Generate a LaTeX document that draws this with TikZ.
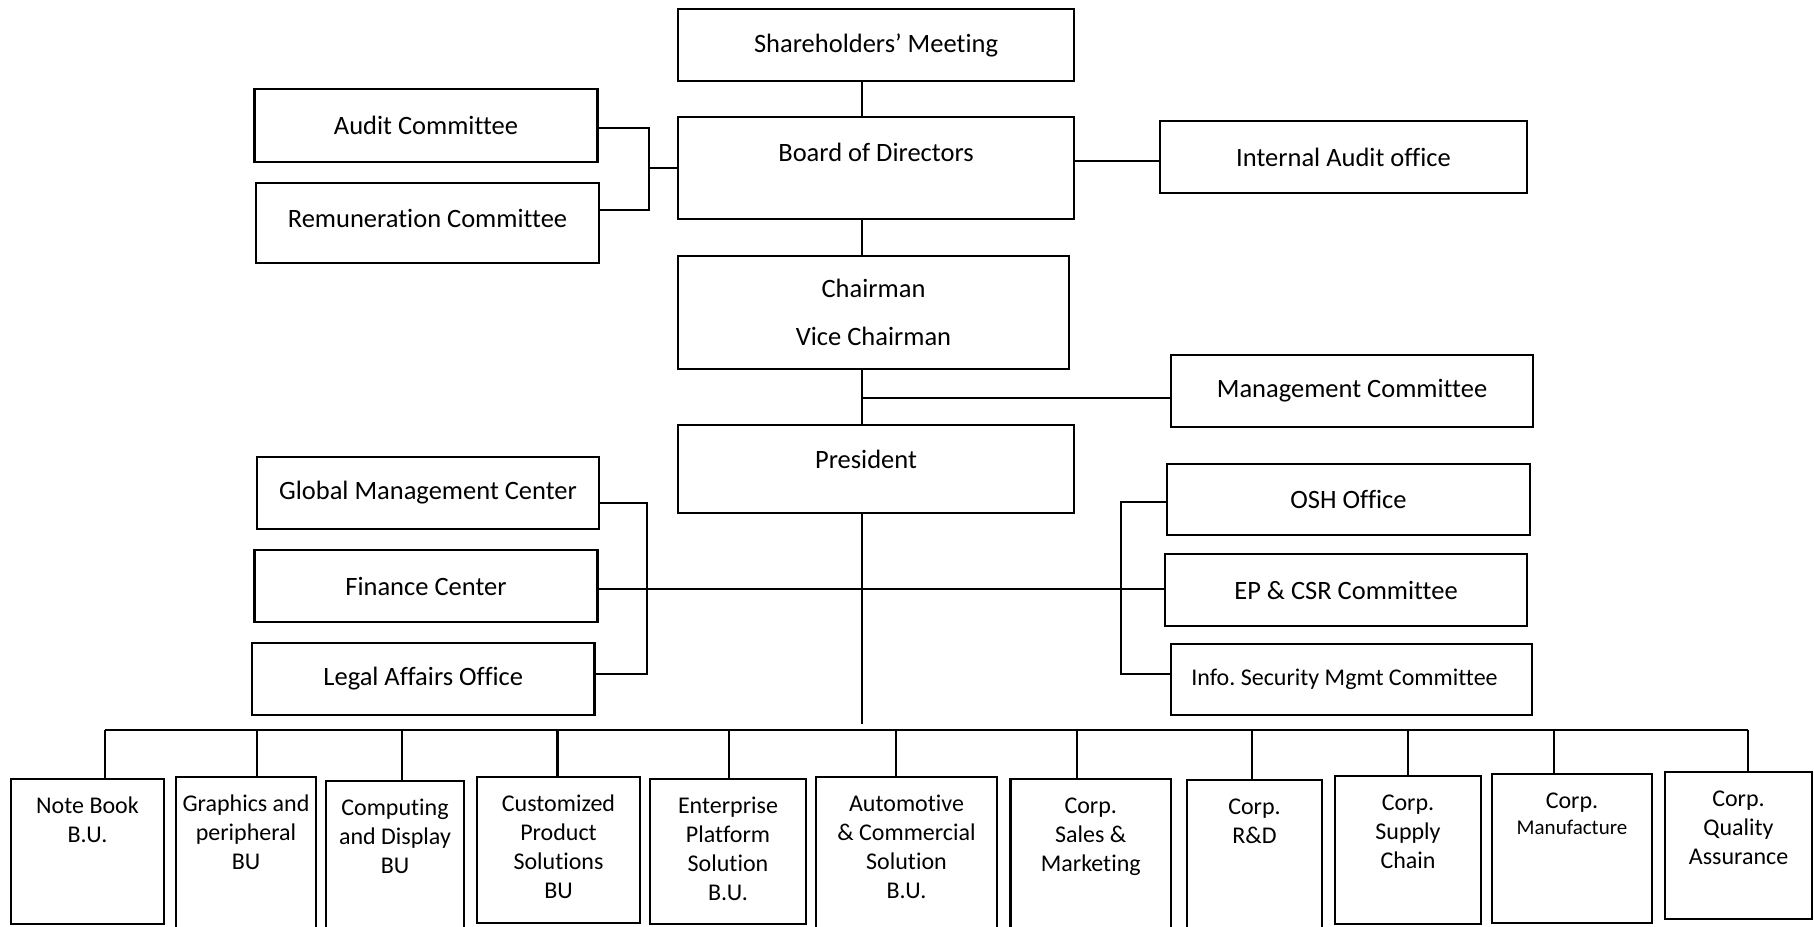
\documentclass[tikz,border=0pt]{standalone}
\usepackage{fontspec}
\setmainfont{Carlito}[Ligatures={TeX,NoCommon}]
\frenchspacing
\usepackage{tikz}
\tikzset{
  orgbox/.style={draw,line width=1.1pt,inner sep=2pt,outer sep=0pt,align=center,font=\fontsize{13.25}{15.9}\selectfont},
  unitbox/.style={draw,line width=1.1pt,inner xsep=2pt,inner ysep=0pt,outer sep=0pt,align=flush center,text height=17.3pt,anchor=north west,font=\fontsize{12}{14.5}\selectfont},
  link/.style={line width=1.1pt}
}

\begin{document}
\begin{tikzpicture}[x=0.5pt,y=-0.5pt]
  \useasboundingbox (0,0) rectangle (1814,926);
  \node[orgbox,minimum width=198pt,minimum height=36pt] (share) at (876,45) {Shareholders' Meeting};
  \node[orgbox,minimum width=198pt,minimum height=51pt,text depth=16pt] (board) at (876,168) {Board of Directors};
  \node[orgbox,minimum width=195.5pt,minimum height=56.5pt] (chair) at (873.5,312.5) {Chairman\\[8pt]Vice Chairman};
  \node[orgbox,minimum width=198pt,minimum height=44pt,text depth=10pt] (pres) at (876,469) {President\hspace*{10pt}};
  \node[orgbox,minimum width=171.5pt,minimum height=36.5pt] (audit) at (426,125.5) {Audit Committee};
  \node[orgbox,minimum width=171.5pt,minimum height=40pt,text depth=5pt] (remun) at (427.5,223) {Remuneration Committee};
  \node[orgbox,minimum width=183.5pt,minimum height=36pt] (iao) at (1343.5,157) {Internal Audit office};
  \node[orgbox,minimum width=181pt,minimum height=36pt] (mgmt) at (1352,391) {Management Committee};
  \node[orgbox,minimum width=171pt,minimum height=36pt] (gmc) at (428,493) {Global Management Center};
  \node[orgbox,minimum width=171.5pt,minimum height=36pt] (fin) at (426,586) {Finance Center};
  \node[orgbox,minimum width=171.25pt,minimum height=36pt] (legal) at (423.25,679) {Legal Affairs Office};
  \node[orgbox,minimum width=181.5pt,minimum height=35.5pt] (osh) at (1348.5,499.5) {OSH Office};
  \node[orgbox,minimum width=181pt,minimum height=36pt] (ep) at (1346,590) {EP \& CSR Committee};
  \node[orgbox,minimum width=180.5pt,minimum height=35.5pt,font=\fontsize{12}{14.5}\selectfont] (info) at (1351.5,679.5) {Info. Security Mgmt Committee\hspace*{7pt}};

  \coordinate (spine) at (862,0);
  \coordinate (acx) at (649,0);
  \coordinate (lx) at (647,0);
  \coordinate (rx) at (1121,0);
  \coordinate (busl) at (105,730);
  \coordinate (busr) at (1748,730);

  \draw[link] (share.south -| spine) -- (board.north -| spine);
  \draw[link] (board.south -| spine) -- (chair.north -| spine);
  \draw[link] (chair.south -| spine) -- (pres.north -| spine);
  \draw[link] ([yshift=-3.5pt]mgmt.west) -- ([yshift=-3.5pt]mgmt.west -| spine);
  \draw[link] ([yshift=-2pt]iao.west) -- ([yshift=-2pt]iao.west -| board.east);
  \draw[link] ([yshift=-1.25pt]audit.east) -| ([yshift=6.5pt]remun.east -| acx) -- ([yshift=6.5pt]remun.east);
  \draw[link] (board.west) -- (board.west -| acx);
  \draw[link] ([yshift=-5pt]gmc.east) -| ([yshift=2.5pt]legal.east -| lx) -- ([yshift=2.5pt]legal.east);
  \draw[link] ([yshift=-1.25pt]osh.west) -| ([yshift=2.75pt]info.west -| rx) -- ([yshift=2.75pt]info.west);
  \draw[link] ([yshift=-1.5pt]fin.east) -- ([yshift=-1.5pt]fin.east -| ep.west);
  \draw[link] (pres.south -| spine) -- ([yshift=3pt]spine |- busl);
  \draw[link] (busl) -- (busr);

  \foreach \nm/\xl/\xr/\yt/\yb/\xd/\txt in {
    nb/11/164/779/924/105/{Note Book\\B.U.},
    gp/176/316/777/940/257/{Graphics and\\peripheral\\BU},
    cd/326/464/781/940/402/{Computing\\and Display\\BU},
    cps/477/640/777/923/557.5/{Customized\\Product\\Solutions\\BU},
    eps/650/806/779/924/729/{Enterprise\\Platform\\Solution\\B.U.},
    acs/816/997/777/940/896/{Automotive\\\& Commercial\\Solution\\B.U.},
    sm/1010.5/1171/779/940/1077/{Corp.\\Sales \&\\Marketing},
    rd/1187/1322/780/940/1252/{Corp.\\R\&D},
    sc/1335/1481/776/924/1408/{Corp.\\Supply\\Chain},
    mf/1492/1652/774/923/1554/{Corp.\\[-1.5pt]{\fontsize{10.5}{12}\selectfont Manufacture}},
    qa/1665/1812/772/919/1748/{Corp.\\Quality\\Assurance}}
  {
    \pgfmathsetmacro{\tw}{(\xr-\xl)*0.5-4}
    \pgfmathsetmacro{\dep}{(\yb-\yt)*0.5-17.3}
    \node[unitbox,text width=\tw pt,text depth=\dep pt] (\nm) at (\xl,\yt) {\txt};
    \draw[link] (\xd,730) -- (\xd,0 |- \nm.north);
  }
\end{tikzpicture}
\end{document}
